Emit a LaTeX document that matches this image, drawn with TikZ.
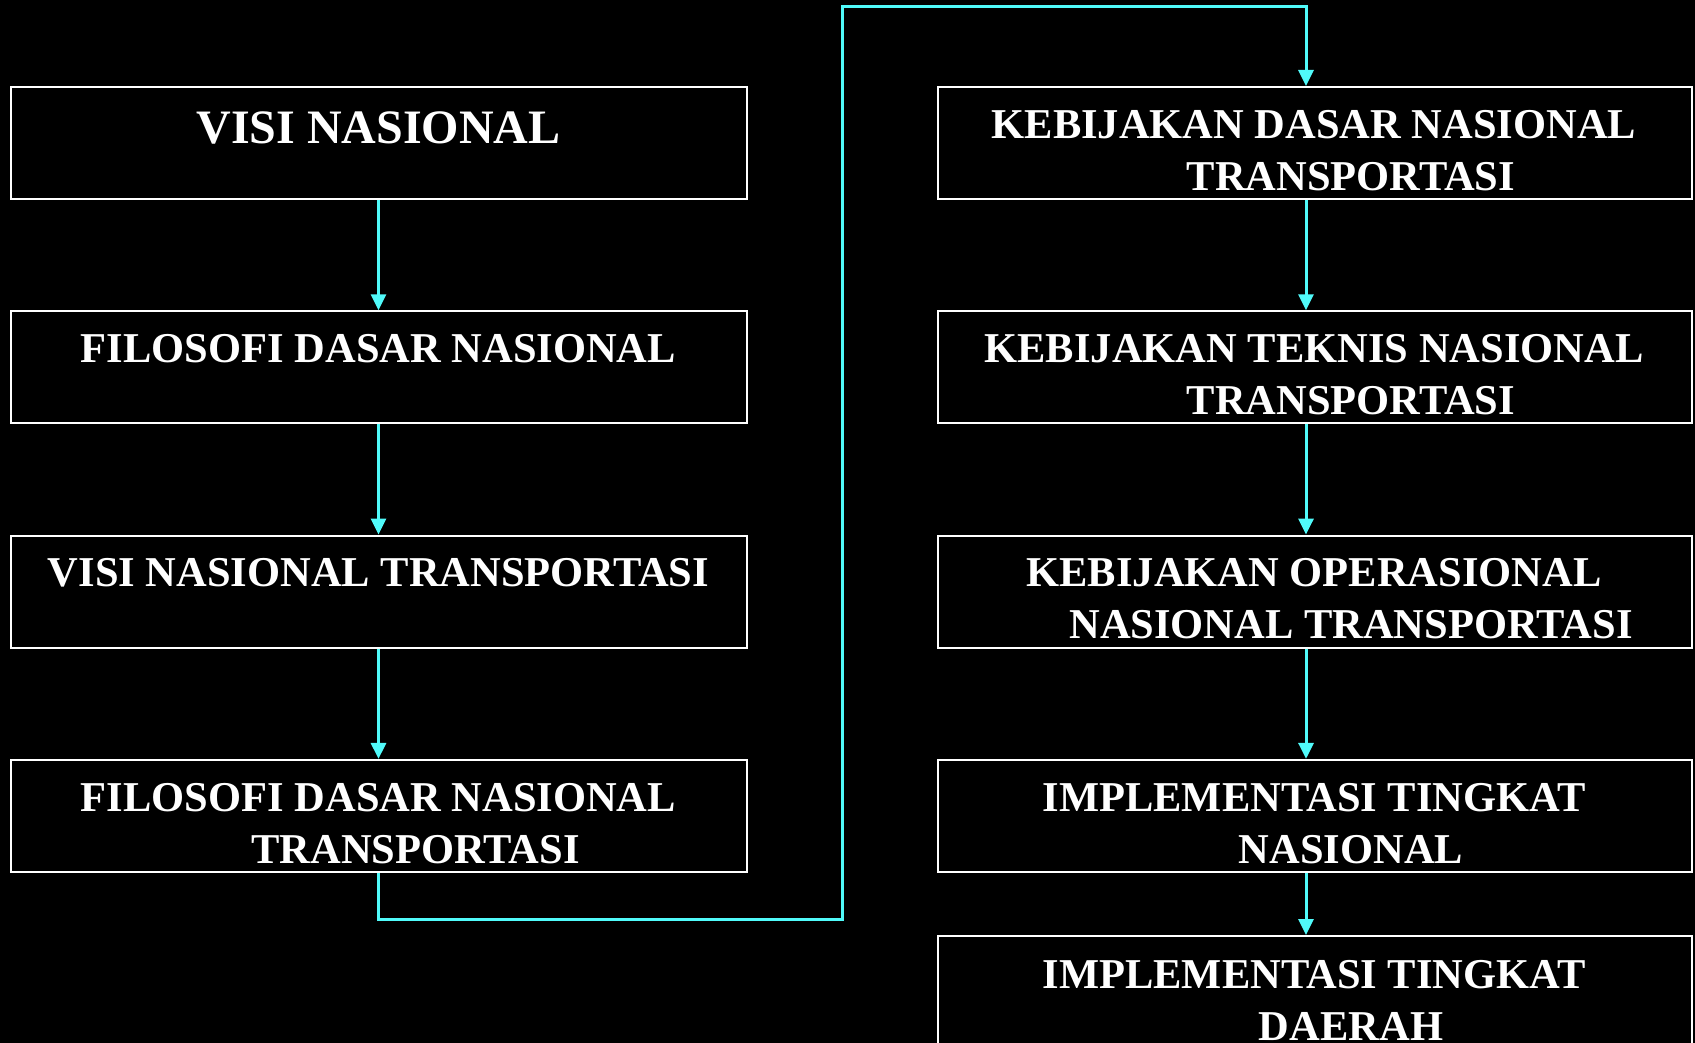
\documentclass[tikz,border=0pt]{standalone}
\usepackage{fontspec}
\setmainfont{Liberation Serif}
\usetikzlibrary{arrows.meta}
\definecolor{linkcyan}{RGB}{80,250,250}
\def\drawlink{\draw[color=linkcyan, line width=3pt, -{Triangle[width=15pt,length=16pt]}]}
\def\leftbox{\node[stage, minimum width=736pt]}
\def\rightbox{\node[stage, minimum width=754pt]}

\begin{document}
\begin{tikzpicture}[x=1pt,y=-1pt,
  stage/.style={draw=white, line width=2pt, inner sep=0pt, minimum height=112pt},
  caption/.style={text=white, anchor=north, inner sep=0pt, align=center,
    font=\fontsize{42.5}{52}\selectfont\bfseries}]
\clip (0,0) rectangle (1695,1043);
\fill[black] (0,0) rectangle (1695,1043);
\leftbox (vn) at (378.5,143) {};
\leftbox (fdn) at (378.5,367.3) {};
\leftbox (vnt) at (378.5,591.6) {};
\leftbox (fdnt) at (378.5,815.9) {};
\rightbox (kdn) at (1315,143) {};
\rightbox (ktn) at (1315,367.3) {};
\rightbox (kon) at (1315,591.6) {};
\rightbox (itn) at (1315,815.9) {};
\rightbox (itd) at (1315,992) {};
\node[caption, font=\fontsize{48}{56}\selectfont\bfseries] (vn-t) at (378.5,111.5) {VISI NASIONAL};
\node[caption] (fdn-t) at (378.5,334) {FILOSOFI DASAR NASIONAL};
\node[caption] (vnt-t) at (378.5,558.5) {VISI NASIONAL TRANSPORTASI};
\node[caption] (fdnt-t) at (378.5,783) {FILOSOFI DASAR NASIONAL\\\hspace*{74pt}TRANSPORTASI};
\node[caption] (kdn-t) at (1314,110) {KEBIJAKAN DASAR NASIONAL\\\hspace*{74pt}TRANSPORTASI};
\node[caption] (ktn-t) at (1314,334) {KEBIJAKAN TEKNIS NASIONAL\\\hspace*{74pt}TRANSPORTASI};
\node[caption] (kon-t) at (1314,558.5) {KEBIJAKAN OPERASIONAL\\\hspace*{74pt}NASIONAL TRANSPORTASI};
\node[caption] (itn-t) at (1314,783) {IMPLEMENTASI TINGKAT\\\hspace*{74pt}NASIONAL};
\node[caption] (itd-t) at (1314,960) {IMPLEMENTASI TINGKAT\\\hspace*{74pt}DAERAH};
\coordinate (lowturn) at (842,919);
\coordinate (highturn) at (842,7);
\drawlink (vn) -- (fdn);
\drawlink (fdn) -- (vnt);
\drawlink (vnt) -- (fdnt);
\drawlink (fdnt.south) |- (lowturn) -- (highturn) -| ([xshift=-9pt]kdn.north);
\drawlink ([xshift=-9pt]kdn.south) -- ([xshift=-9pt]ktn.north);
\drawlink ([xshift=-9pt]ktn.south) -- ([xshift=-9pt]kon.north);
\drawlink ([xshift=-9pt]kon.south) -- ([xshift=-9pt]itn.north);
\drawlink ([xshift=-9pt]itn.south) -- ([xshift=-9pt]itd.north);
\end{tikzpicture}
\end{document}
